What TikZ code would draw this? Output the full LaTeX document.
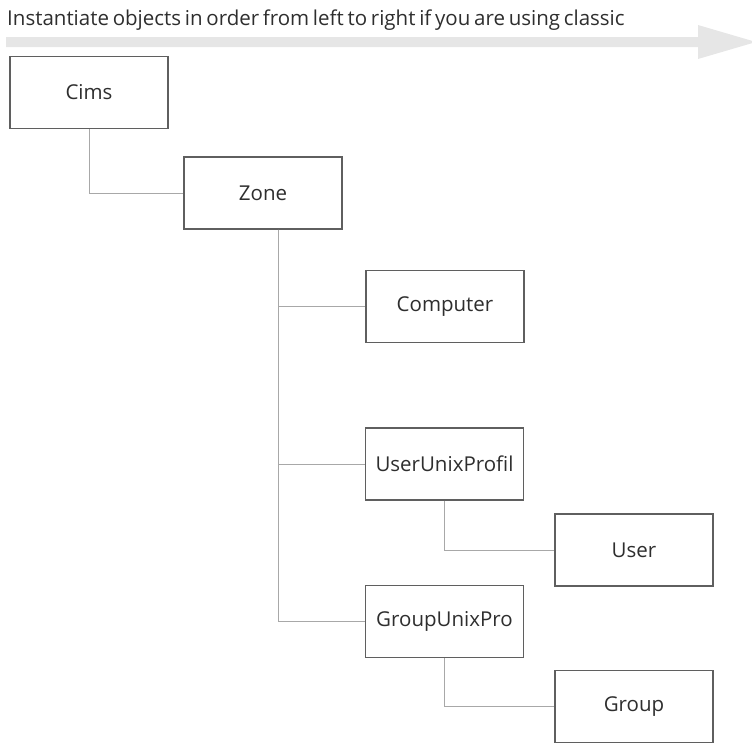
\documentclass[tikz,border=0pt]{standalone}
\usepackage{fontspec}
\setmainfont{Open Sans}
\newfontfamily\titlefont[WordSpace=0.7]{Open Sans}
\usepackage{xcolor}
\definecolor{boxline}{HTML}{5F5F5F}
\definecolor{linkline}{HTML}{A8A8A8}
\definecolor{band}{HTML}{E6E6E6}
\definecolor{label}{HTML}{2E2E2E}

\begin{document}
\begin{tikzpicture}[x=1pt,y=-1pt,
  box/.style={draw=boxline,line width=1.3pt,minimum width=158pt,minimum height=72pt,inner sep=0pt,text=label,font=\fontsize{20.5}{24}\selectfont},
  link/.style={draw=linkline,line width=1pt}]
\useasboundingbox (0,0) rectangle (752,742);
\fill[band] (6,37) -- (698,37) -- (698,25) -- (756,42) -- (698,59) -- (698,47) -- (6,47) -- cycle;
\node[anchor=base west,inner sep=0pt,text=label,font=\titlefont\fontsize{20.5}{24}\selectfont] (title) at (7,25) {Instantiate objects in order from left to right if you are using classic};
\node[box] (cims) at (89,92.5) {Cims};
\node[box] (zone) at (263,193) {Zone};
\node[box] (computer) at (445,306.5) {Computer};
\node[box] (userprof) at (444.5,464) {UserUnixProfil};
\node[box] (user) at (634,550) {User};
\node[box] (groupprof) at (444.5,621.5) {GroupUnixPro};
\node[box] (group) at (634,706.5) {Group};
\coordinate (trunk) at ([xshift=15pt]zone.south);
\draw[link] (cims) |- (zone);
\draw[link] (trunk) |- (computer);
\draw[link] (trunk) |- (userprof);
\draw[link] (trunk) |- (groupprof);
\draw[link] (userprof) |- (user);
\draw[link] (groupprof) |- (group);
\end{tikzpicture}
\end{document}
